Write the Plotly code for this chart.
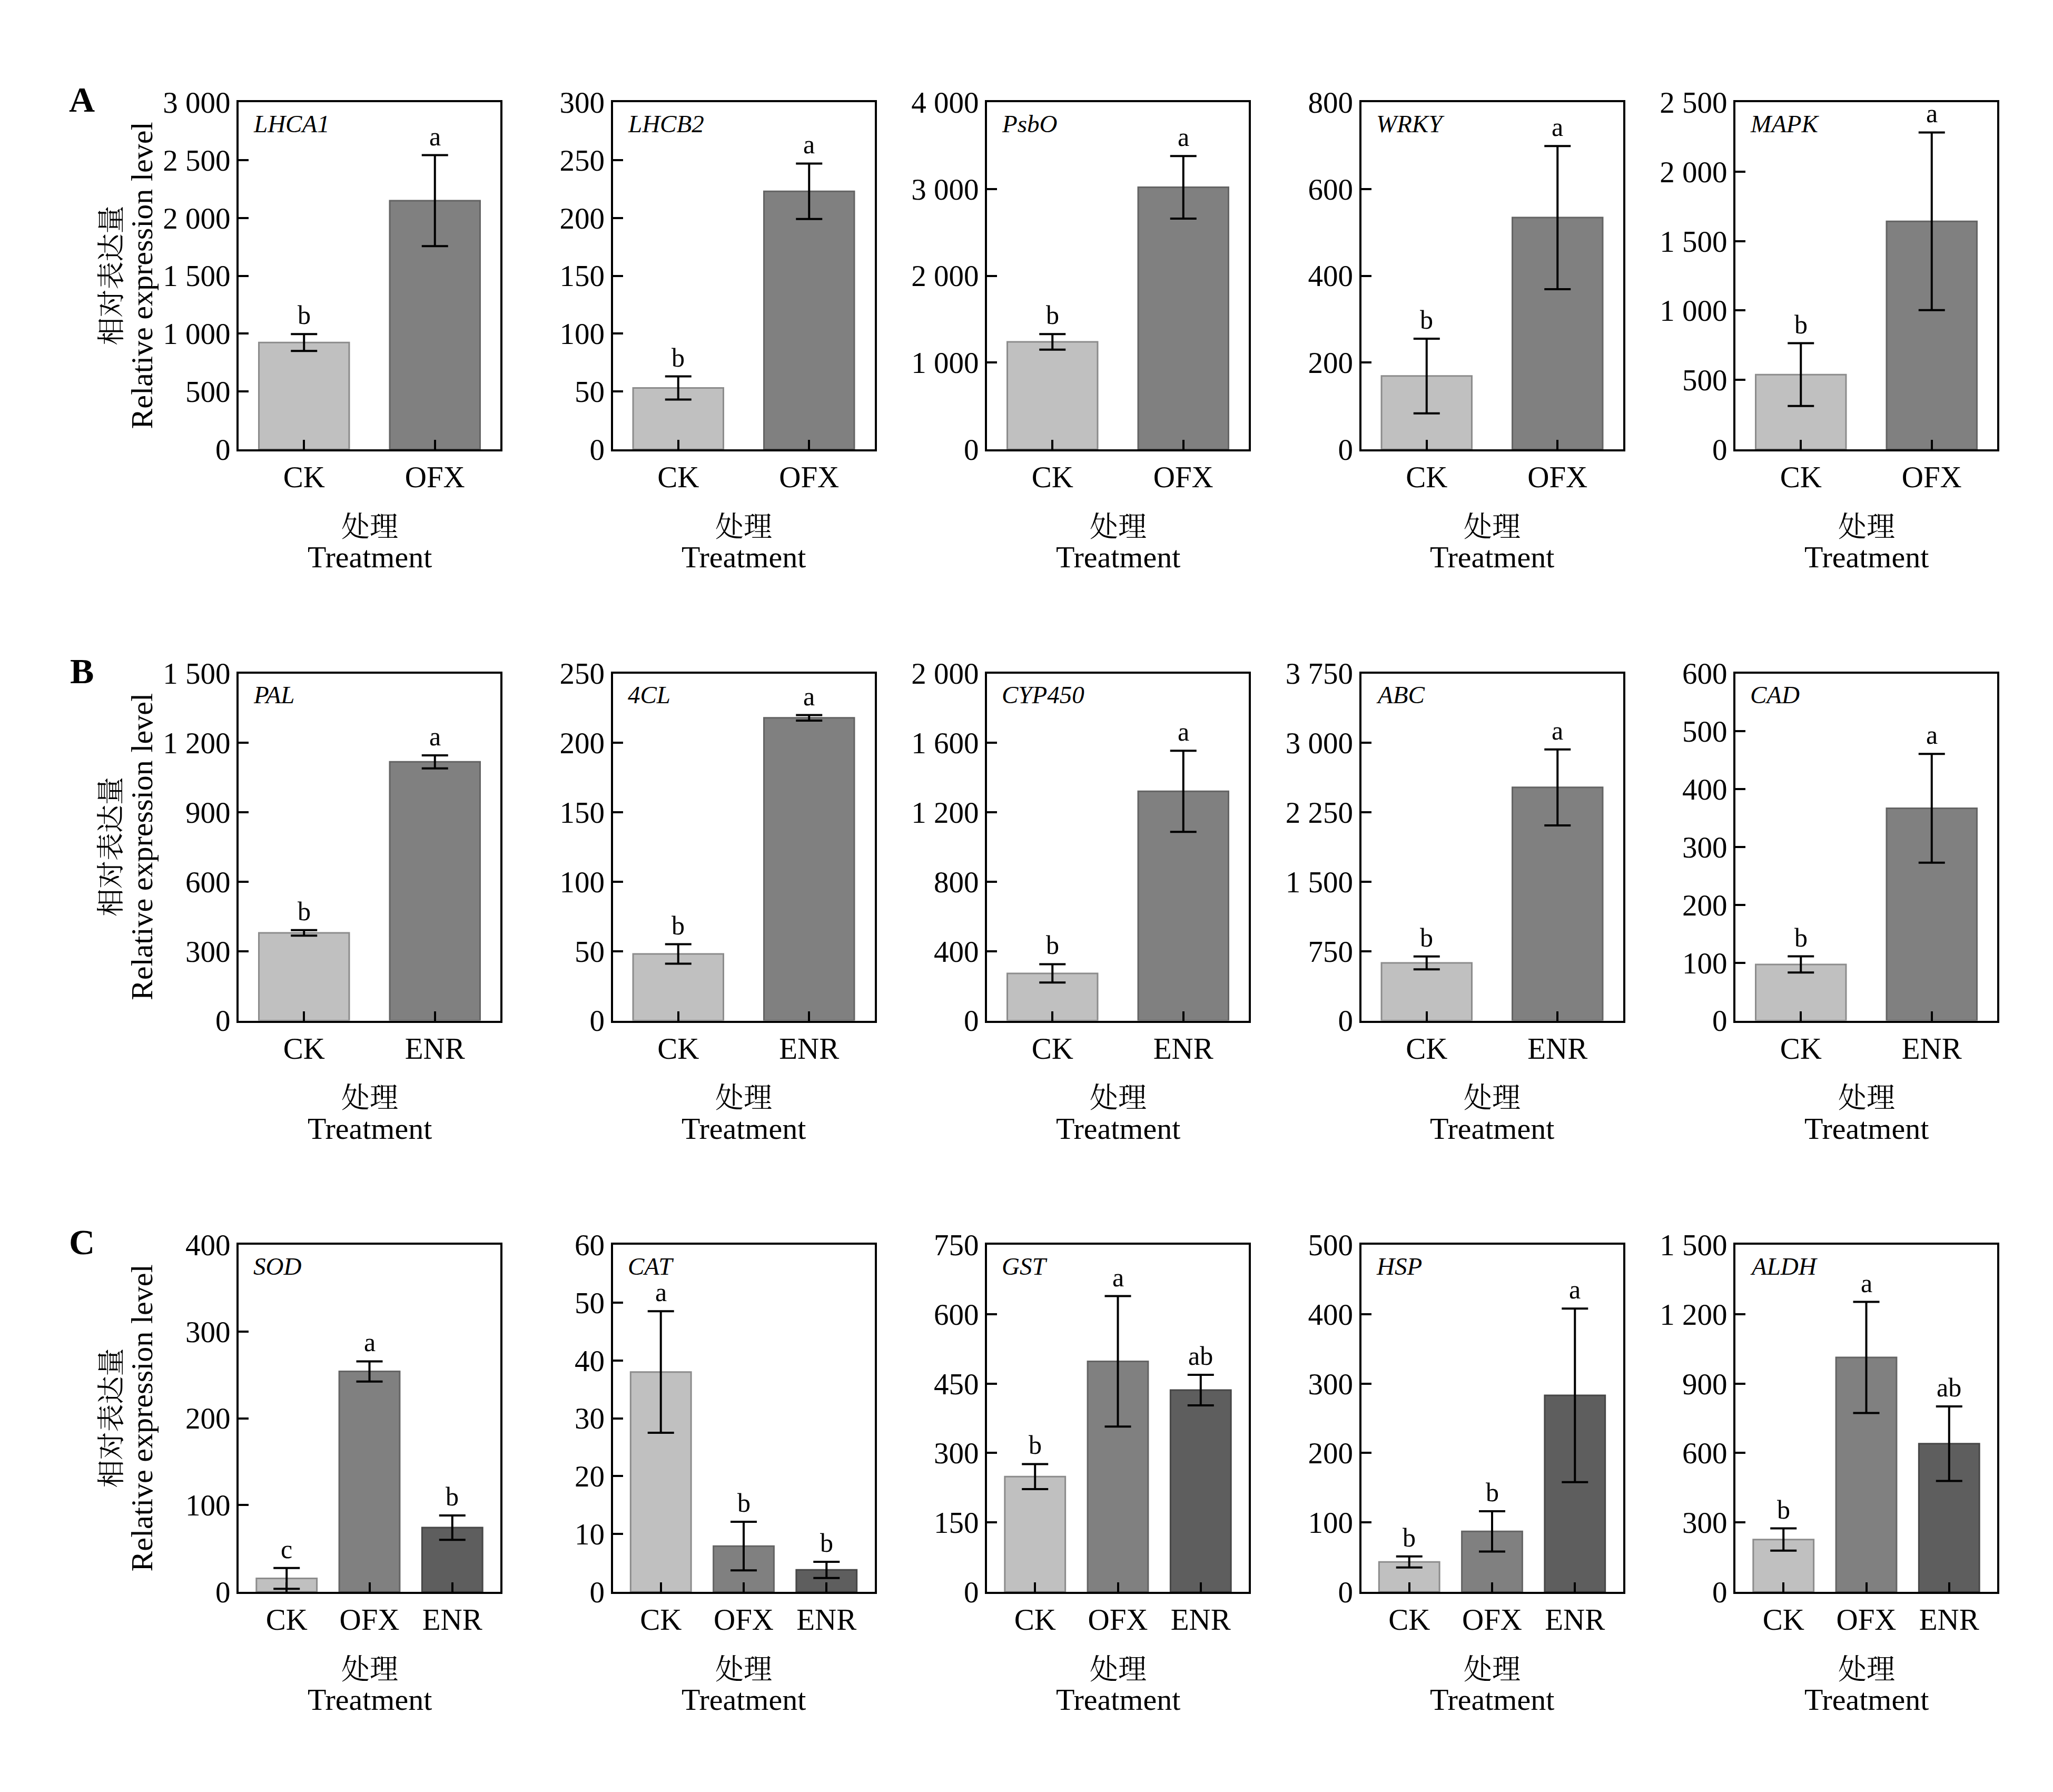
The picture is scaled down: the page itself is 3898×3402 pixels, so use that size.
import plotly.graph_objects as go
from plotly.subplots import make_subplots

# Gene expression data (mean and error per treatment)
genes_A = ["LHCA1", "LHCB2", "PsbO", "WRKY", "MAPK"]
treat_A = ["CK", "OFX"]
mean_A = [[923, 2149], [53, 223], [1238, 3019], [169, 534], [538, 1642]]
err_A = [[73, 393], [10, 24], [90, 360], [86, 165], [226, 640]]
sig_A = [["b", "a"], ["b", "a"], ["b", "a"], ["b", "a"], ["b", "a"]]
ymax_A = [3000, 300, 4000, 800, 2500]
dtick_A = [500, 50, 1000, 200, 500]

genes_B = ["PAL", "4CL", "CYP450", "ABC", "CAD"]
treat_B = ["CK", "ENR"]
mean_B = [[379, 1118], [48, 218], [272, 1321], [623, 2519], [97, 367]]
err_B = [[12, 28], [7, 2], [53, 234], [70, 410], [14, 94]]
sig_B = [["b", "a"], ["b", "a"], ["b", "a"], ["b", "a"], ["b", "a"]]
ymax_B = [1500, 250, 2000, 3750, 600]
dtick_B = [300, 50, 400, 750, 100]

genes_C = ["SOD", "CAT", "GST", "HSP", "ALDH"]
treat_C = ["CK", "OFX", "ENR"]
mean_C = [[15.5, 254, 74], [38, 7.9, 3.8], [249, 498, 436], [43, 87, 283], [226, 1013, 640]]
err_C = [[12, 11.6, 14], [10.5, 4.2, 1.4], [27, 141, 33], [8, 29, 125], [48, 240, 161]]
sig_C = [["c", "a", "b"], ["a", "b", "b"], ["b", "a", "ab"], ["b", "b", "a"], ["b", "a", "ab"]]
ymax_C = [400, 60, 750, 500, 1500]
dtick_C = [100, 10, 150, 100, 300]

# bar colours by position (light, medium, dark grey)
fills = ["#c0c0c0", "#808080", "#5e5e5e"]
edges = ["#8c8c8c", "#646464", "#474747"]

rows = [
    ("A", genes_A, treat_A, mean_A, err_A, sig_A, ymax_A, dtick_A),
    ("B", genes_B, treat_B, mean_B, err_B, sig_B, ymax_B, dtick_B),
    ("C", genes_C, treat_C, mean_C, err_C, sig_C, ymax_C, dtick_C),
]

W, H = 3898, 3402
OFF = 8  # page body margin
col_left = [453 - OFF, 1163.5 - OFF, 1874 - OFF, 2584.5 - OFF, 3295 - OFF]
row_top = [194 - OFF, 1278.5 - OFF, 2363 - OFF]
pw, ph = 497, 659
col_dom = [(x / W, (x + pw) / W) for x in col_left]
row_dom = [(1 - (y + ph) / H, 1 - y / H) for y in row_top]

SERIF = "Liberation Serif, Times New Roman, Noto Serif CJK SC, Noto Sans CJK SC"

fig = make_subplots(rows=3, cols=5)
annotations = []

for r, (tag, genes, treats, means, errs, sigs, ymaxs, dticks) in enumerate(rows):
    for c in range(5):
        k = r * 5 + c + 1
        xa = "x" if k == 1 else f"x{k}"
        ya = "y" if k == 1 else f"y{k}"
        n = len(treats)
        fig.add_trace(go.Bar(
            x=treats, y=means[c],
            width=0.69 if n == 2 else 0.73,
            marker=dict(color=fills[:n], line=dict(color=edges[:n], width=3)),
            error_y=dict(type="data", array=errs[c], color="black",
                         thickness=4, width=25),
            showlegend=False,
        ), row=r + 1, col=c + 1)

        fig.update_xaxes(
            domain=list(col_dom[c]), type="category", automargin=False,
            range=[-0.5, 1.5] if n == 2 else [-0.58, 2.58],
            showline=True, mirror=True, linecolor="black", linewidth=4,
            ticks="inside", ticklen=18, tickwidth=4, tickcolor="black",
            tickfont=dict(family=SERIF, size=57, color="black"),
            ticklabelstandoff=0,
            row=r + 1, col=c + 1)
        fig.update_yaxes(
            domain=list(row_dom[r]), range=[0, ymaxs[c]], tick0=0, dtick=dticks[c],
            automargin=False,
            showline=True, mirror=True, linecolor="black", linewidth=4,
            ticks="inside", ticklen=19, tickwidth=4, tickcolor="black",
            separatethousands=True, showgrid=False, zeroline=False,
            tickfont=dict(family=SERIF, size=57, color="black"),
            ticklabelstandoff=0,
            row=r + 1, col=c + 1)

        # gene name
        annotations.append(dict(
            text=f"<i>{genes[c]}</i>", xref=f"{xa} domain", yref=f"{ya} domain",
            x=0.053, y=0.938, xanchor="left", yanchor="middle", showarrow=False,
            font=dict(family=SERIF, size=47, color="black")))
        # significance letters
        for i, t in enumerate(treats):
            annotations.append(dict(
                text=sigs[c][i], xref=xa, yref=ya, x=t, y=means[c][i] + errs[c][i],
                xanchor="center", yanchor="bottom", yshift=6, showarrow=False,
                font=dict(family=SERIF, size=50, color="black")))
        # x titles
        annotations.append(dict(
            text="处理", xref=f"{xa} domain", yref=f"{ya} domain", x=0.5, y=-0.224,
            xanchor="center", yanchor="middle", showarrow=False,
            font=dict(family=SERIF, size=54, color="black")))
        annotations.append(dict(
            text="Treatment", xref=f"{xa} domain", yref=f"{ya} domain", x=0.5, y=-0.311,
            xanchor="center", yanchor="middle", showarrow=False,
            font=dict(family=SERIF, size=58, color="black")))

    # y titles and panel letter
    yc = sum(row_dom[r]) / 2
    annotations.append(dict(
        text="相对表达量", xref="paper", yref="paper", x=(211 - OFF) / W, y=yc,
        textangle=-90, xanchor="center", yanchor="middle", showarrow=False,
        font=dict(family=SERIF, size=53, color="black")))
    annotations.append(dict(
        text="Relative expression level", xref="paper", yref="paper",
        x=(269 - OFF) / W, y=yc,
        textangle=-90, xanchor="center", yanchor="middle", showarrow=False,
        font=dict(family=SERIF, size=58, color="black")))
    annotations.append(dict(
        text=f"<b>{tag}</b>", xref="paper", yref="paper", x=(155.5 - OFF) / W,
        y=row_dom[r][1] + 5 / H,
        xanchor="center", yanchor="middle", showarrow=False,
        font=dict(family=SERIF, size=68, color="black")))

fig.update_layout(
    width=W, height=H,
    margin=dict(l=0, r=0, t=0, b=0),
    paper_bgcolor="white", plot_bgcolor="white",
    separators=". ",
    annotations=annotations,
    font=dict(family=SERIF, color="black"),
)

fig.write_html("out.html")
